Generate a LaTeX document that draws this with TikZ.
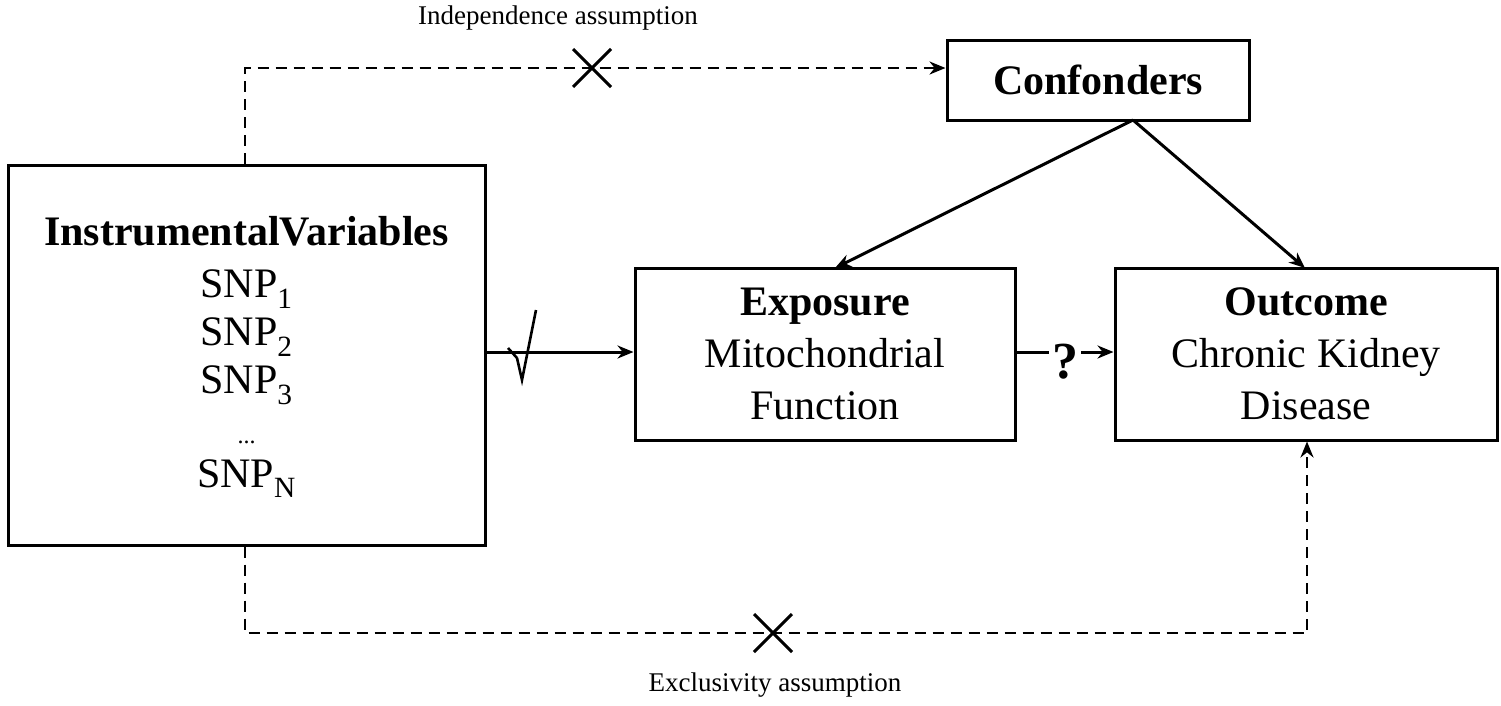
\documentclass[tikz,border=0pt]{standalone}
\usepackage{fontspec}
\setmainfont{Liberation Serif}
\usetikzlibrary{arrows.meta}
\begin{document}
\begin{tikzpicture}[x=1pt,y=-1pt,
 box/.style={draw,line width=3pt,inner sep=0pt},
 arr/.style={line width=3pt,-{Stealth[length=16pt,width=13pt]}},
 dsh/.style={line width=2.6pt,dash pattern=on 11pt off 7pt,-{Stealth[length=16pt,width=13pt]}},
 big/.style={font=\fontsize{42}{52}\selectfont,align=center},
 lab/.style={font=\fontsize{27}{30}\selectfont}]
\useasboundingbox (0,0) rectangle (1501,705);
\node[box,minimum width=477pt,minimum height=380pt] (iv) at (246.5,355) {};
\node[big,font=\fontsize{42}{48}\selectfont] (ivt) at (246.5,357) {\textbf{InstrumentalVariables}\\[4pt]SNP\textsubscript{1}\\SNP\textsubscript{2}\\SNP\textsubscript{3}\\[2pt]{\fontsize{24}{24}\selectfont ...}\\[-4pt]SNP\textsubscript{N}};
\node[box,minimum width=302pt,minimum height=80pt,big] (conf) at (1098,80) {\textbf{Confonders}};
\node[box,minimum width=380pt,minimum height=172pt,big] (exp) at (825,354) {\textbf{Exposure}\\Mitochondrial\\Function};
\node[box,minimum width=382pt,minimum height=172pt,big] (out) at (1306,354) {\textbf{Outcome}\\Chronic Kidney\\Disease};
\draw[arr] (iv.east|-0,352) -- (exp.west|-0,352);
\draw[arr] (exp.east|-0,352) -- (out.west|-0,352);
\node[fill=white,inner sep=3pt,font=\fontsize{52}{52}\selectfont\bfseries] (q) at (1065,362) {?};
\coordinate (ct) at (1133,120);
\draw[arr] (ct) -- (835,268);
\draw[arr] (ct) -- (1305,268);
\coordinate (a1) at (245,68);
\draw[dsh] (iv.north-|a1) -- (a1) -- (conf.west|-a1);
\coordinate (b1) at (245,633);
\coordinate (b2) at (1307,633);
\draw[dsh] (iv.south-|b1) -- (b1) -- (b2) -- (out.south-|b2);
\draw[line width=3pt] (573,49) -- (611,87) (611,49) -- (573,87);
\draw[line width=3pt] (754,614) -- (792,652) (792,614) -- (754,652);
\draw[line width=2.6pt] (508,348) -- (517,358) (517,358) -- (522,380) -- (536,310);
\node[lab] (t1) at (558,18) {Independence assumption};
\node[lab] (t2) at (775,685) {Exclusivity assumption};
\end{tikzpicture}
\end{document}
